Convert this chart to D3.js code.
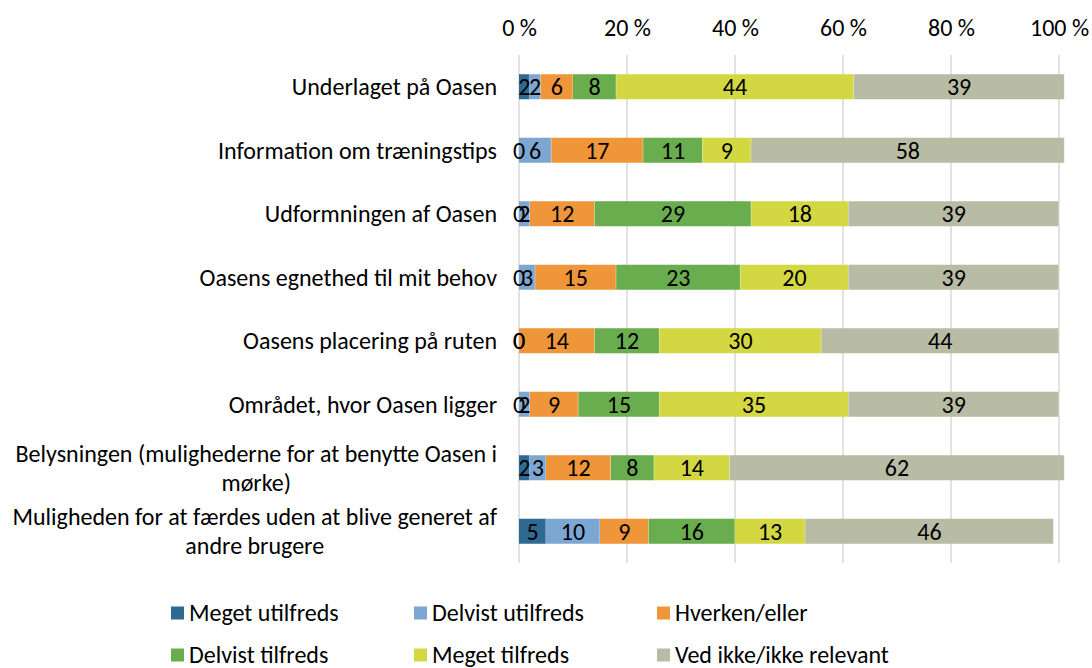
<!DOCTYPE html>
<html>
<head>
<meta charset="utf-8">
<script src="https://cdn.jsdelivr.net/npm/d3@7"></script>
<style>
  body { margin: 0; background: #fff; }
  text { font-family: Carlito, Calibri, Lato, sans-serif; fill: #000; }
</style>
</head>
<body>
<div id="chart"></div>
<script>
// categories, top to bottom (\n marks where the label wraps)
const categories = [
    "Underlaget på Oasen",
    "Information om træningstips",
    "Udformningen af Oasen",
    "Oasens egnethed til mit behov",
    "Oasens placering på ruten",
    "Området, hvor Oasen ligger",
    "Belysningen (mulighederne for at benytte Oasen i\nmørke)",
    "Muligheden for at færdes uden at blive generet af\nandre brugere"
];

const seriesNames = [
    "Meget utilfreds", "Delvist utilfreds", "Hverken/eller",
    "Delvist tilfreds", "Meget tilfreds", "Ved ikke/ikke relevant"
];

const seriesColors = ["#2f6a93", "#7ca7d2", "#f0963a", "#69ad4f", "#d3d842", "#b8bca4"];

// one array per series, in category order
const megetUtilfreds   = [2, 0, 0, 0, 0, 0, 2, 5];
const delvistUtilfreds = [2, 6, 2, 3, 0, 2, 3, 10];
const hverkenEller     = [6, 17, 12, 15, 14, 9, 12, 9];
const delvistTilfreds  = [8, 11, 29, 23, 12, 15, 8, 16];
const megetTilfreds    = [44, 9, 18, 20, 30, 35, 14, 13];
const vedIkke          = [39, 58, 39, 39, 44, 39, 62, 46];

const seriesValues = [megetUtilfreds, delvistUtilfreds, hverkenEller, delvistTilfreds, megetTilfreds, vedIkke];

const tickValues = [0, 20, 40, 60, 80, 100];

const width = 1092, height = 668;
const fontSize = 24;

const svg = d3.select("#chart").append("svg")
    .attr("width", width)
    .attr("height", height);

const x = d3.scaleLinear().domain([0, 100]).range([519, 1059]);
const y = d3.scaleBand().domain(categories).range([55, 563])
    .paddingInner(0.606).paddingOuter(0.303);

// gridlines
svg.append("g")
    .selectAll("line")
    .data(tickValues)
    .join("line")
    .attr("x1", d => x(d)).attr("x2", d => x(d))
    .attr("y1", 55).attr("y2", 563)
    .attr("stroke", "#d9d9d9")
    .attr("stroke-width", 1.5);

// top axis labels
const axis = svg.append("g")
    .attr("transform", "translate(0,36)")
    .call(d3.axisTop(x).tickValues(tickValues).tickSize(0).tickPadding(0).tickFormat(d => d + " %"));
axis.select(".domain").remove();
axis.selectAll("text")
    .attr("font-size", fontSize)
    .attr("font-family", null);

// stack the data
const rows = categories.map((c, i) => {
    const r = { cat: c };
    seriesNames.forEach((s, j) => r[s] = seriesValues[j][i]);
    return r;
});
const stacked = d3.stack().keys(seriesNames)(rows);

const layers = svg.append("g")
    .selectAll("g")
    .data(stacked)
    .join("g")
    .attr("fill", (d, i) => seriesColors[i]);

layers.selectAll("rect")
    .data(d => d)
    .join("rect")
    .attr("x", d => x(d[0]))
    .attr("width", d => x(d[1]) - x(d[0]))
    .attr("y", d => y(d.data.cat))
    .attr("height", y.bandwidth());

// faint white separators between segments like the Excel original
layers.selectAll("line")
    .data(d => d.filter(v => v[1] > v[0]))
    .join("line")
    .attr("x1", d => x(d[1])).attr("x2", d => x(d[1]))
    .attr("y1", d => y(d.data.cat)).attr("y2", d => y(d.data.cat) + y.bandwidth())
    .attr("stroke", "#fff")
    .attr("stroke-opacity", 0.6)
    .attr("stroke-width", 1);

// data labels
svg.append("g")
    .selectAll("g")
    .data(stacked)
    .join("g")
    .selectAll("text")
    .data(d => d)
    .join("text")
    .attr("x", d => x((d[0] + d[1]) / 2))
    .attr("y", d => y(d.data.cat) + y.bandwidth() / 2)
    .attr("dy", "0.35em")
    .attr("text-anchor", "middle")
    .attr("font-size", fontSize)
    .text(d => d[1] - d[0]);

// category labels
const catG = svg.append("g");
categories.forEach(c => {
    const lines = c.split("\n");
    const cy = y(c) + y.bandwidth() / 2;
    if (lines.length === 1) {
        catG.append("text")
            .attr("x", 497)
            .attr("y", cy)
            .attr("dy", "0.35em")
            .attr("text-anchor", "end")
            .attr("font-size", fontSize)
            .text(c);
    } else {
        const t = catG.append("text")
            .attr("font-size", fontSize)
            .attr("text-anchor", "middle");
        const spans = lines.map((l, k) => t.append("tspan")
            .attr("y", cy + (k - (lines.length - 1) / 2) * 29)
            .attr("dy", "0.35em")
            .text(l));
        const w = d3.max(spans, s => s.node().getComputedTextLength());
        spans.forEach(s => s.attr("x", 497 - w / 2));
    }
});

// legend
const legendCols = [171, 414, 657];
const legendRows = [613, 655];
const legend = svg.append("g")
    .selectAll("g")
    .data(seriesNames)
    .join("g")
    .attr("transform", (d, i) => `translate(${legendCols[i % 3]},${legendRows[Math.floor(i / 3)]})`);
legend.append("rect")
    .attr("x", 0).attr("y", -6.5)
    .attr("width", 13).attr("height", 13)
    .attr("fill", (d, i) => seriesColors[i]);
legend.append("text")
    .attr("x", 18)
    .attr("dy", "0.35em")
    .attr("font-size", fontSize)
    .text(d => d);
</script>
</body>
</html>
